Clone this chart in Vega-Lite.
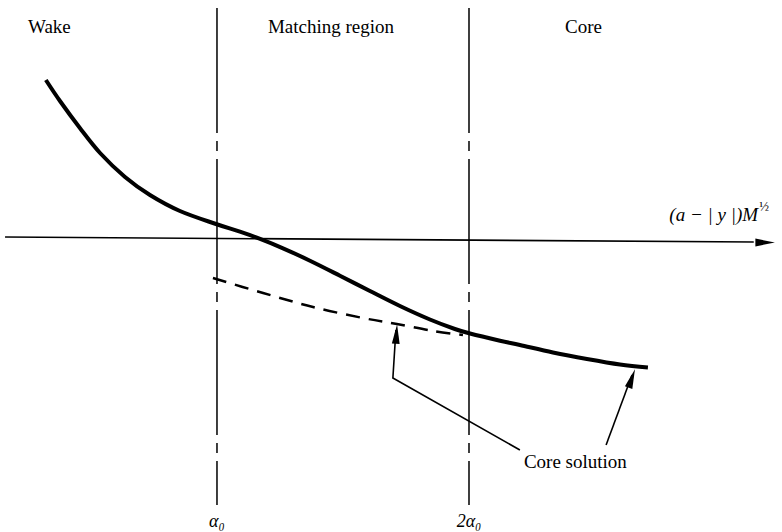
{
  "$schema": "https://vega.github.io/schema/vega-lite/v6.json",
  "width": 782,
  "height": 532,
  "autosize": {"type": "fit", "contains": "padding"},
  "padding": 0,
  "background": "white",
  "config": {"view": {"stroke": null}},
  "datasets": {
    "solution": [
      {"x": 0.321, "y": 1.58}, {"x": 0.377, "y": 1.37}, {"x": 0.456, "y": 1.10},
      {"x": 0.536, "y": 0.85}, {"x": 0.635, "y": 0.61}, {"x": 0.734, "y": 0.43},
      {"x": 0.853, "y": 0.27}, {"x": 0.996, "y": 0.14}, {"x": 1.091, "y": 0.063},
      {"x": 1.171, "y": -0.009}, {"x": 1.262, "y": -0.103}, {"x": 1.369, "y": -0.227},
      {"x": 1.488, "y": -0.377}, {"x": 1.607, "y": -0.53}, {"x": 1.726, "y": -0.68},
      {"x": 1.845, "y": -0.815}, {"x": 1.944, "y": -0.91}, {"x": 2.004, "y": -0.955},
      {"x": 2.123, "y": -1.027}, {"x": 2.202, "y": -1.07}, {"x": 2.333, "y": -1.145},
      {"x": 2.468, "y": -1.21}, {"x": 2.599, "y": -1.265}, {"x": 2.710, "y": -1.295}
    ],
    "core": [
      {"x": 0.984, "y": -0.40}, {"x": 1.183, "y": -0.55}, {"x": 1.381, "y": -0.69},
      {"x": 1.579, "y": -0.80}, {"x": 1.714, "y": -0.86}, {"x": 1.857, "y": -0.93},
      {"x": 1.976, "y": -0.97}
    ],
    "axis": [{"x": 0.159, "y": 0.01}, {"x": 3.13, "y": -0.04}],
    "bounds": [
      {"x": 1.0, "y1": 2.30, "y2": -2.67},
      {"x": 2.0, "y1": 2.30, "y2": -2.67}
    ],
    "leaders": [
      {"g": "a", "o": 1, "x": 1.710, "y": -0.92},
      {"g": "a", "o": 2, "x": 1.698, "y": -1.40},
      {"g": "a", "o": 3, "x": 2.202, "y": -2.12},
      {"g": "b", "o": 1, "x": 2.544, "y": -2.07},
      {"g": "b", "o": 2, "x": 2.647, "y": -1.37}
    ],
    "heads": [
      {"x": 1.712, "y": -0.96, "a": 4},
      {"x": 2.646, "y": -1.404, "a": 19},
      {"x": 3.175, "y": -0.045, "a": 90}
    ],
    "labels": [
      {"x": 0.25, "y": 2.11, "t": "Wake"},
      {"x": 1.202, "y": 2.11, "t": "Matching region"},
      {"x": 2.381, "y": 2.11, "t": "Core"},
      {"x": 2.218, "y": -2.24, "t": "Core solution"}
    ],
    "ticks": [
      {"x": 1.0, "y": -2.84, "t": "α₀"},
      {"x": 2.0, "y": -2.84, "t": "2α₀"}
    ]
  },
  "layer": [
    {
      "data": {"name": "bounds"},
      "mark": {"type": "rule", "color": "black", "strokeWidth": 1.5, "strokeDash": [125, 8, 10, 8]},
      "encoding": {
        "x": {"field": "x", "type": "quantitative", "scale": {"domain": [0.139, 3.242], "nice": false, "zero": false}, "axis": null},
        "y": {"field": "y1", "type": "quantitative", "scale": {"domain": [-2.94, 2.38], "nice": false, "zero": false}, "axis": null},
        "y2": {"field": "y2"}
      }
    },
    {
      "data": {"name": "axis"},
      "mark": {"type": "line", "color": "black", "strokeWidth": 1.6},
      "encoding": {
        "x": {"field": "x", "type": "quantitative"},
        "y": {"field": "y", "type": "quantitative"}
      }
    },
    {
      "data": {"name": "solution"},
      "mark": {"type": "line", "color": "black", "strokeWidth": 4, "interpolate": "cardinal", "strokeCap": "butt"},
      "encoding": {
        "x": {"field": "x", "type": "quantitative"},
        "y": {"field": "y", "type": "quantitative"}
      }
    },
    {
      "data": {"name": "core"},
      "mark": {"type": "line", "color": "black", "strokeWidth": 2.5, "strokeDash": [14, 9], "interpolate": "cardinal"},
      "encoding": {
        "x": {"field": "x", "type": "quantitative"},
        "y": {"field": "y", "type": "quantitative"}
      }
    },
    {
      "data": {"name": "leaders"},
      "mark": {"type": "line", "color": "black", "strokeWidth": 1.6},
      "encoding": {
        "x": {"field": "x", "type": "quantitative"},
        "y": {"field": "y", "type": "quantitative"},
        "detail": {"field": "g"},
        "order": {"field": "o"}
      }
    },
    {
      "data": {"name": "heads"},
      "mark": {"type": "point", "shape": "M0,-1L0.4,1L-0.4,1Z", "filled": true, "color": "black", "opacity": 1, "size": 380},
      "encoding": {
        "x": {"field": "x", "type": "quantitative"},
        "y": {"field": "y", "type": "quantitative"},
        "angle": {"field": "a", "type": "quantitative", "scale": null}
      }
    },
    {
      "data": {"name": "labels"},
      "mark": {"type": "text", "align": "left", "baseline": "middle", "font": "Liberation Serif", "fontSize": 19, "color": "black"},
      "encoding": {
        "x": {"field": "x", "type": "quantitative"},
        "y": {"field": "y", "type": "quantitative"},
        "text": {"field": "t"}
      }
    },
    {
      "data": {"name": "ticks"},
      "mark": {"type": "text", "align": "center", "baseline": "middle", "font": "Liberation Serif", "fontStyle": "italic", "fontSize": 18, "color": "black"},
      "encoding": {
        "x": {"field": "x", "type": "quantitative"},
        "y": {"field": "y", "type": "quantitative"},
        "text": {"field": "t"}
      }
    },
    {
      "data": {"values": [{"x": 3.147, "y": 0.23, "t": "(a − | y |)M"}]},
      "mark": {"type": "text", "align": "right", "baseline": "middle", "font": "Liberation Serif", "fontStyle": "italic", "fontSize": 19, "color": "black"},
      "encoding": {
        "x": {"field": "x", "type": "quantitative"},
        "y": {"field": "y", "type": "quantitative"},
        "text": {"field": "t"}
      }
    },
    {
      "data": {"values": [{"x": 3.152, "y": 0.31, "t": "½"}]},
      "mark": {"type": "text", "align": "left", "baseline": "middle", "font": "Liberation Serif", "fontSize": 13, "color": "black"},
      "encoding": {
        "x": {"field": "x", "type": "quantitative"},
        "y": {"field": "y", "type": "quantitative"},
        "text": {"field": "t"}
      }
    }
  ]
}
